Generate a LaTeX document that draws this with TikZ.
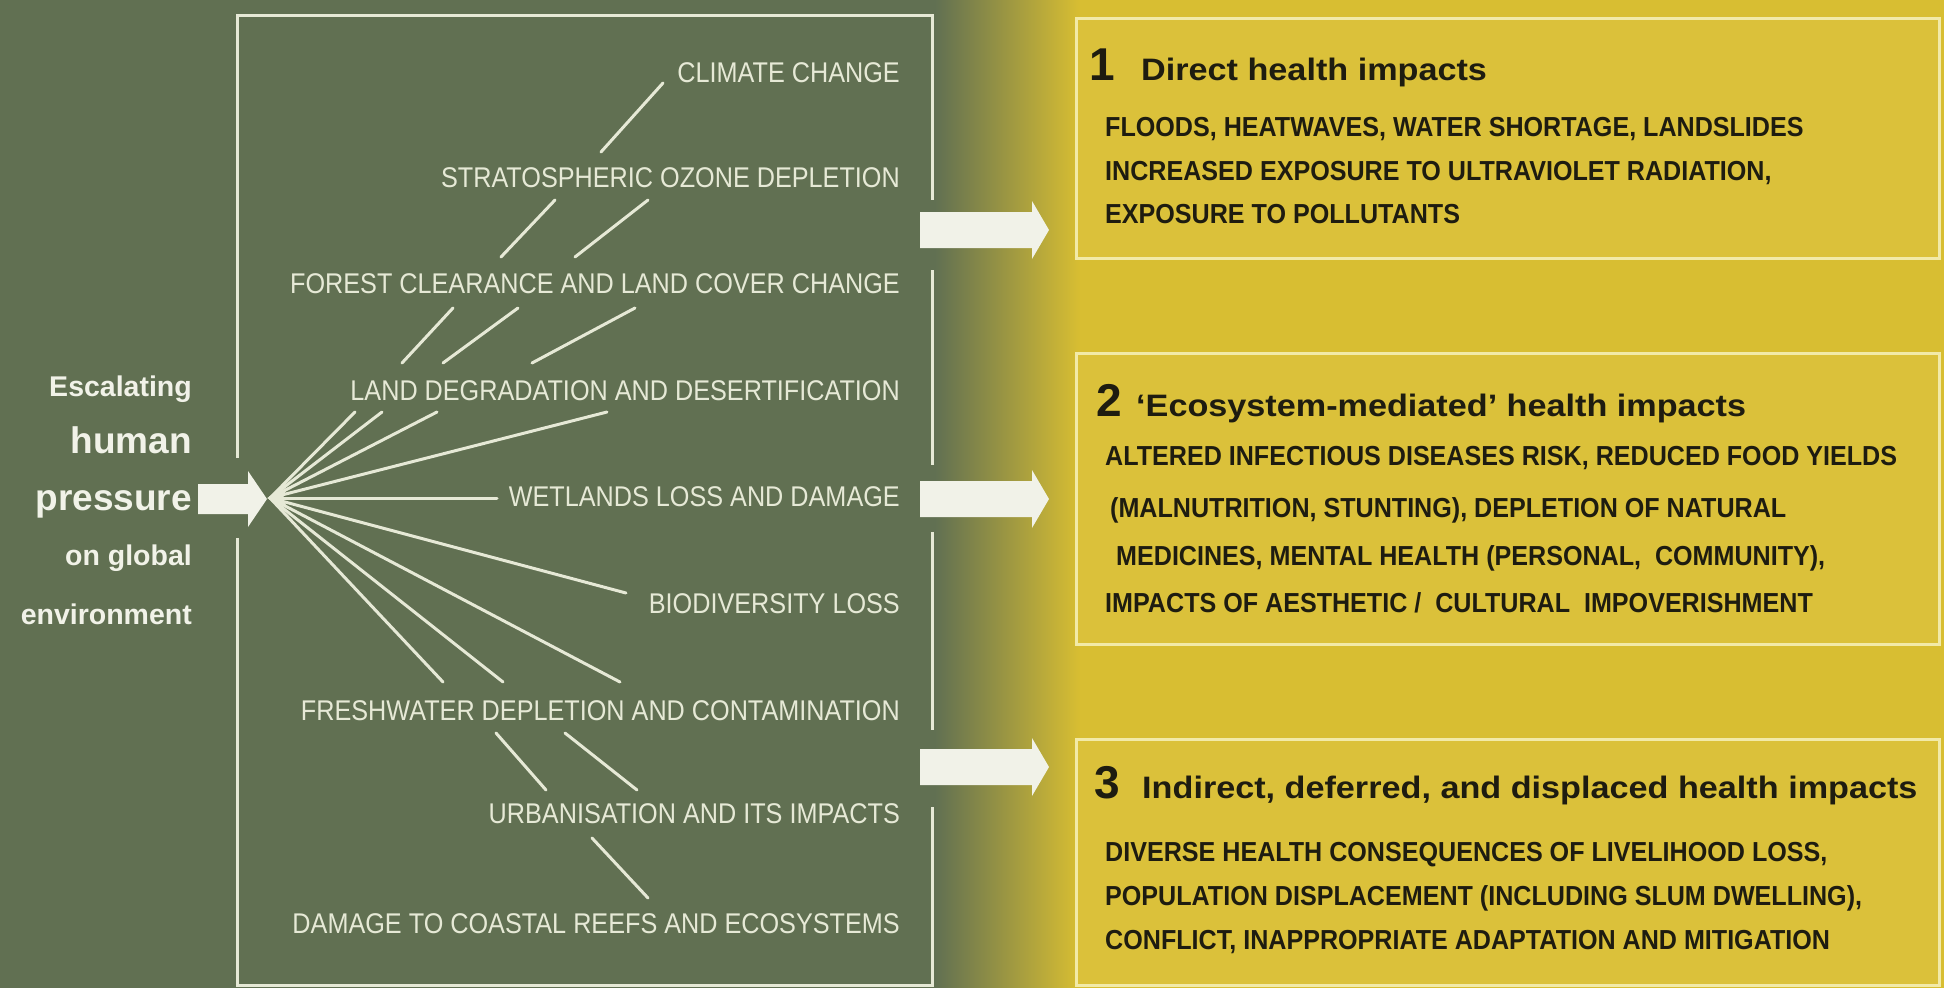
\documentclass[tikz,border=0pt]{standalone}
\usepackage{fontspec}
\setmainfont{Liberation Sans}
\newfontfamily\labelfont[FakeStretch=0.885]{Liberation Sans}
\newfontfamily\bodyfont[FakeStretch=0.913]{Liberation Sans}
\newfontfamily\titlefont[FakeStretch=1.103]{Liberation Sans}
\definecolor{bggreen}{HTML}{617052}
\definecolor{bgyellow}{HTML}{D8BE32}
\definecolor{boxyellow}{HTML}{DBC13A}
\definecolor{boxline}{HTML}{F2EAA8}
\definecolor{chalk}{HTML}{E6E9D6}
\definecolor{chalkwhite}{HTML}{F1F2E8}
\definecolor{ink}{HTML}{1E1C10}
\tikzset{
  blockarrow/.pic={
    \fill[chalkwhite] (0,-18) -- (112,-18) -- (112,-29) -- (129,0)
      -- (112,29) -- (112,18) -- (0,18) -- cycle;
  }
}
\begin{document}
\begin{tikzpicture}[x=1pt,y=-1pt,
  frameline/.style={draw=chalk, line width=3pt},
  fanline/.style={draw=chalk, line width=3pt, line cap=round},
  lbl/.style={text=chalk, font=\labelfont\fontsize{28.5}{30}\selectfont, inner sep=0pt, anchor=base east},
  lefttxt/.style={text=chalkwhite, font=\bfseries\fontsize{28.5}{30}\selectfont, inner sep=0pt, anchor=base east},
  bigtxt/.style={text=chalkwhite, font=\bfseries\fontsize{37}{40}\selectfont, inner sep=0pt, anchor=base east},
  impactbox/.style={draw=boxline, line width=3pt, fill=boxyellow, anchor=north west, inner sep=0pt},
  digit/.style={text=ink, font=\bfseries\fontsize{46}{48}\selectfont, inner sep=0pt, anchor=base west},
  boxtitle/.style={text=ink, font=\titlefont\bfseries\fontsize{31}{34}\selectfont, inner sep=0pt, anchor=base west},
  boxbody/.style={text=ink, font=\bodyfont\bfseries\fontsize{27.5}{30}\selectfont, inner sep=0pt, anchor=base west},
]
\useasboundingbox (0,0) rectangle (1944,988);

% background: green on the left, fading into yellow on the right
\fill[bggreen] (0,0) rectangle (1944,988);
\fill[bgyellow] (1078,0) rectangle (1944,988);
\shade[left color=bggreen, right color=bgyellow] (935,0) rectangle (1080,988);

% frame around the list of pressures, open where the arrows pass
\draw[frameline] (237,458) -- (237,15) -- (932,15) -- (932,200);
\draw[frameline] (932,270) -- (932,465);
\draw[frameline] (932,532) -- (932,730);
\draw[frameline] (237,538) -- (237,985) -- (932,985) -- (932,807);

% left caption
\node[lefttxt] (esc) at (192,396) {Escalating};
\node[bigtxt]  (hum) at (192,453) {human};
\node[bigtxt]  (pre) at (192,510) {pressure};
\node[lefttxt] (ong) at (192,565) {on global};
\node[lefttxt] (env) at (192,624) {environment};

% input arrow
\fill[chalkwhite] (198,484) -- (248,484) -- (248,471) -- (267,499)
  -- (248,527) -- (248,514) -- (198,514) -- cycle;

% pressures
\node[lbl] (cc)  at (900,82)  {CLIMATE CHANGE};
\node[lbl] (oz)  at (900,187) {STRATOSPHERIC OZONE DEPLETION};
\node[lbl] (fc)  at (900,293) {FOREST CLEARANCE AND LAND COVER CHANGE};
\node[lbl] (ld)  at (900,400) {LAND DEGRADATION AND DESERTIFICATION};
\node[lbl] (wl)  at (900,506) {WETLANDS LOSS AND DAMAGE};
\node[lbl] (bd)  at (900,613) {BIODIVERSITY LOSS};
\node[lbl] (fw)  at (900,720) {FRESHWATER DEPLETION AND CONTAMINATION};
\node[lbl] (ur)  at (900,823) {URBANISATION AND ITS IMPACTS};
\node[lbl] (cr)  at (900,933) {DAMAGE TO COASTAL REEFS AND ECOSYSTEMS};

% fan of links from the pressure point
\coordinate (fan) at (270,498);
\coordinate (f1) at (355,412);
\coordinate (f2) at (382,412);
\coordinate (f3) at (437,412);
\coordinate (f4) at (607,412);
\coordinate (f5) at (497,498);
\coordinate (f6) at (626,593);
\coordinate (f7) at (620,682);
\coordinate (f8) at (503,682);
\coordinate (f9) at (443,682);
\foreach \e in {f1,f2,f3,f4,f5,f6,f7,f8,f9}
  \draw[fanline] (fan) -- (\e);
\fill[chalk] (267,498) -- (287,488) -- (283,498) -- (287,508) -- cycle;

% links between neighbouring pressures
\coordinate (c1a) at (663,83);  \coordinate (c1b) at (601,152);
\coordinate (c2a) at (555,200); \coordinate (c2b) at (501,257);
\coordinate (c3a) at (648,200); \coordinate (c3b) at (575,257);
\coordinate (c4a) at (453,308); \coordinate (c4b) at (402,363);
\coordinate (c5a) at (518,308); \coordinate (c5b) at (443,363);
\coordinate (c6a) at (635,308); \coordinate (c6b) at (532,363);
\coordinate (c7a) at (496,733); \coordinate (c7b) at (546,790);
\coordinate (c8a) at (565,733); \coordinate (c8b) at (637,790);
\coordinate (c9a) at (592,838); \coordinate (c9b) at (648,898);
\foreach \i in {1,...,9}
  \draw[fanline] (c\i a) -- (c\i b);

% arrows towards the impact boxes
\pic (arr1) at (920,230) {blockarrow};
\pic (arr2) at (920,499) {blockarrow};
\pic (arr3) at (920,767) {blockarrow};

% impact boxes
\node[impactbox, minimum width=863pt, minimum height=240pt] (box1) at (1075,17) {};
\node[impactbox, minimum width=863pt, minimum height=291pt] (box2) at (1075,352) {};
\node[impactbox, minimum width=863pt, minimum height=246pt] (box3) at (1075,738) {};

% box 1
\node[digit]    (n1) at (1089,80) {1};
\node[boxtitle] (t1) at (1141,80) {Direct health impacts};
\node[boxbody] (b11) at (1105,136) {FLOODS, HEATWAVES, WATER SHORTAGE, LANDSLIDES};
\node[boxbody] (b12) at (1105,180) {INCREASED EXPOSURE TO ULTRAVIOLET RADIATION,};
\node[boxbody] (b13) at (1105,223) {EXPOSURE TO POLLUTANTS};

% box 2
\node[digit]    (n2) at (1096,416) {2};
\node[boxtitle] (t2) at (1136,416) {‘Ecosystem-mediated’ health impacts};
\node[boxbody] (b21) at (1105,465) {ALTERED INFECTIOUS DISEASES RISK, REDUCED FOOD YIELDS};
\node[boxbody] (b22) at (1110,517) {(MALNUTRITION, STUNTING), DEPLETION OF NATURAL};
\node[boxbody] (b23) at (1116,565) {MEDICINES, MENTAL HEALTH (PERSONAL,\ \ COMMUNITY),};
\node[boxbody] (b24) at (1105,612) {IMPACTS OF AESTHETIC /\ \ CULTURAL\ \ IMPOVERISHMENT};

% box 3
\node[digit]    (n3) at (1094,798) {3};
\node[boxtitle] (t3) at (1142,798) {Indirect, deferred, and displaced health impacts};
\node[boxbody] (b31) at (1105,861) {DIVERSE HEALTH CONSEQUENCES OF LIVELIHOOD LOSS,};
\node[boxbody] (b32) at (1105,905) {POPULATION DISPLACEMENT (INCLUDING SLUM DWELLING),};
\node[boxbody] (b33) at (1105,949) {CONFLICT, INAPPROPRIATE ADAPTATION AND MITIGATION};
\end{tikzpicture}
\end{document}
